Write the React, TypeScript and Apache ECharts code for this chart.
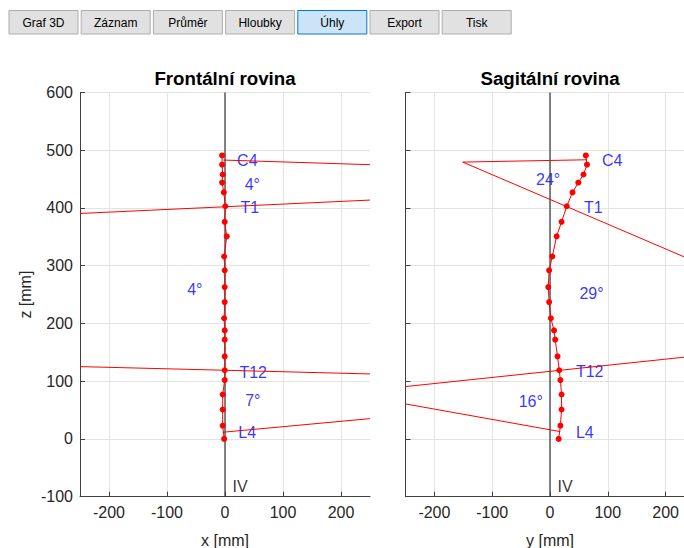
import React, { useEffect, useRef } from "react";
import * as echarts from "echarts";

const buttonLabels = ["Graf 3D", "Záznam", "Průměr", "Hloubky", "Úhly", "Export", "Tisk"];
const activeButton = "Úhly";

const planeTitles = ["Frontální rovina", "Sagitální rovina"];
const horizAxisNames = ["x [mm]", "y [mm]"];
const zAxisName = "z [mm]";
const horizTickValues = [-200, -100, 0, 100, 200];
const originLabel = "IV";

// vertebra heights (mm)
const zMm = [491, 475, 458, 444, 427, 403, 376, 351, 316, 292, 263, 237, 209, 188, 172, 143, 119, 102, 77, 51, 23, 0];
// frontal plane offsets (x, mm)
const frontalX = [-5, -5, -4, -5, -2, 0.5, -0.5, 3, -1.5, -0.5, -0.5, -0.5, -1.5, -0.5, -0.5, -0.5, -0.5, -0.5, -4, -4, -4, -1.5];
// sagittal plane offsets (y, mm)
const sagittalY = [62, 64, 58, 49, 39, 29, 20, 11.5, 4, -1.5, -3, -1.5, 1.5, 7, 9, 13, 16, 18, 20, 20, 18, 15];

// perpendicular lines, frontal plane: [x, z]
const frontalC4Line = [[-3, 483], [250, 475]];
const frontalT1Line = [[-250, 390.5], [250, 413.7]];
const frontalT12Line = [[-250, 125.3], [250, 112.6]];
const frontalL4Line = [[-4, 11.6], [250, 35.2]];

// perpendicular lines, sagittal plane: [y, z]
const sagittalC4Line = [[64, 483.5], [-151, 479.5]];
const sagittalT1Line = [[-151, 479.5], [250, 307.7]];
const sagittalT12Line = [[-250, 90.7], [250, 143.5]];
const sagittalL4Line = [[-250, 60.7], [17.8, 12.7]];

// annotations: [text, horizontal value, z]
const frontalLabels: [string, number, number][] = [
  ["C4", 20, 483], ["4°", 33, 441], ["T1", 26, 400], ["4°", -66, 258],
  ["T12", 24, 115], ["7°", 34, 66], ["L4", 22, 11],
];
const sagittalLabels: [string, number, number][] = [
  ["C4", 89, 482], ["24°", -25, 450], ["T1", 58, 400], ["29°", 50, 252],
  ["T12", 44, 117], ["16°", -55, 65], ["L4", 44, 11],
];
const originLabelPos = [[12, -83], [12, -83]];
const zeroLine = [[0, -100], [0, 600]];

const FONT = "'Liberation Sans', Arial, Helvetica, sans-serif";
const RED = "#ff0000";
const BLUE = "#0000ff";
const AXIS = "#404040";

export default function App() {
  const ref = useRef<HTMLDivElement>(null);
  useEffect(() => {
    if (!ref.current) return;
    const chart = echarts.init(ref.current, null, { renderer: "svg" });

    const grids = [
      { left: 80, top: 92.5, width: 290, height: 404.2 },
      { left: 405.5, top: 92.5, width: 289, height: 404.2 },
    ];
    const centers = [80 + 145, 405.5 + 144.5];

    const xAxes = [0, 1].map((i) => ({
      type: "value",
      gridIndex: i,
      min: -250,
      max: 250,
      name: horizAxisNames[i],
      nameLocation: "middle",
      nameGap: 36,
      nameTextStyle: { color: "#262626", fontSize: 16, fontFamily: FONT },
      axisLine: { show: true, onZero: false, lineStyle: { color: AXIS, width: 1 } },
      axisTick: { show: true, inside: true, length: 5, customValues: horizTickValues, lineStyle: { color: AXIS } },
      axisLabel: { show: true, customValues: horizTickValues, margin: 8, color: "#262626", fontSize: 16, fontFamily: FONT },
      splitLine: { show: true, lineStyle: { color: "#e3e3e3", width: 1 } },
    }));
    const yAxes = [0, 1].map((i) => ({
      type: "value",
      gridIndex: i,
      min: -100,
      max: 600,
      interval: 100,
      name: i === 0 ? zAxisName : "",
      nameLocation: "middle",
      nameGap: 47,
      nameTextStyle: { color: "#262626", fontSize: 16, fontFamily: FONT },
      axisLine: { show: true, onZero: false, lineStyle: { color: AXIS, width: 1 } },
      axisTick: { show: true, inside: true, length: 5, lineStyle: { color: AXIS } },
      axisLabel: { show: i === 0, margin: 7, color: "#262626", fontSize: 16, fontFamily: FONT },
      splitLine: { show: true, lineStyle: { color: "#e3e3e3", width: 1 } },
    }));

    const seg = (data: number[][], ax: number) => ({
      type: "line",
      xAxisIndex: ax,
      yAxisIndex: ax,
      data,
      symbol: "none",
      silent: true,
      lineStyle: { color: RED, width: 1 },
    });
    const zero = (ax: number) => ({
      type: "line",
      xAxisIndex: ax,
      yAxisIndex: ax,
      data: zeroLine,
      symbol: "none",
      silent: true,
      lineStyle: { color: "#333333", width: 1.2 },
    });
    const spine = (vals: number[], ax: number) => ({
      type: "line",
      xAxisIndex: ax,
      yAxisIndex: ax,
      data: zMm.map((z, k) => [vals[k], z]),
      symbol: "circle",
      symbolSize: 6,
      showAllSymbol: true,
      itemStyle: { color: RED },
      lineStyle: { color: RED, width: 1 },
      silent: true,
    });
    const labels = (items: [string, number, number][], ax: number, color: string) => ({
      type: "scatter",
      xAxisIndex: ax,
      yAxisIndex: ax,
      symbolSize: 1,
      itemStyle: { color: "rgba(0,0,0,0)" },
      silent: true,
      data: items.map(([t, x, z]) => ({ name: t, value: [x, z] })),
      label: {
        show: true,
        position: "right",
        distance: 0,
        formatter: "{b}",
        color,
        fontSize: 16,
        fontFamily: FONT,
      },
    });

    const series: any[] = [
      zero(0),
      seg(frontalC4Line, 0),
      seg(frontalT1Line, 0),
      seg(frontalT12Line, 0),
      seg(frontalL4Line, 0),
      spine(frontalX, 0),
      labels(frontalLabels, 0, BLUE),
      labels([[originLabel, originLabelPos[0][0], originLabelPos[0][1]]], 0, "#000000"),
      zero(1),
      seg(sagittalC4Line, 1),
      seg(sagittalT1Line, 1),
      seg(sagittalT12Line, 1),
      seg(sagittalL4Line, 1),
      spine(sagittalY, 1),
      labels(sagittalLabels, 1, BLUE),
      labels([[originLabel, originLabelPos[1][0], originLabelPos[1][1]]], 1, "#000000"),
    ];

    const btnStep = 72.2;
    const graphic: any[] = [];
    buttonLabels.forEach((label, i) => {
      const active = label === activeButton;
      graphic.push({
        type: "group",
        x: 9 + i * btnStep,
        y: 10.5,
        children: [
          {
            type: "rect",
            shape: { x: 0, y: 0, width: 69, height: 23.5 },
            style: {
              fill: active ? "#cce4f7" : "#e1e1e1",
              stroke: active ? "#0078d7" : "#adadad",
              lineWidth: 1,
            },
          },
          {
            type: "text",
            x: 34.5,
            y: 12,
            style: {
              text: label,
              align: "center",
              verticalAlign: "middle",
              fill: "#000000",
              font: `12px ${FONT}`,
            },
          },
        ],
      });
    });
    planeTitles.forEach((t, i) => {
      graphic.push({
        type: "text",
        x: centers[i],
        y: 78,
        style: {
          text: t,
          align: "center",
          verticalAlign: "middle",
          fill: "#000000",
          font: `bold 18.7px ${FONT}`,
        },
      });
    });

    chart.setOption({
      animation: false,
      backgroundColor: "#ffffff",
      grid: grids.map((g) => ({ ...g, containLabel: false, outerBoundsMode: "none" })),
      xAxis: xAxes,
      yAxis: yAxes,
      series,
      graphic,
    } as any);
    return () => chart.dispose();
  }, []);

  return (
    <div style={{ position: "fixed", left: 0, top: 0, width: 684, height: 548, overflow: "hidden", background: "#fff" }}>
      <div ref={ref} style={{ width: 720, height: 548 }} />
    </div>
  );
}
